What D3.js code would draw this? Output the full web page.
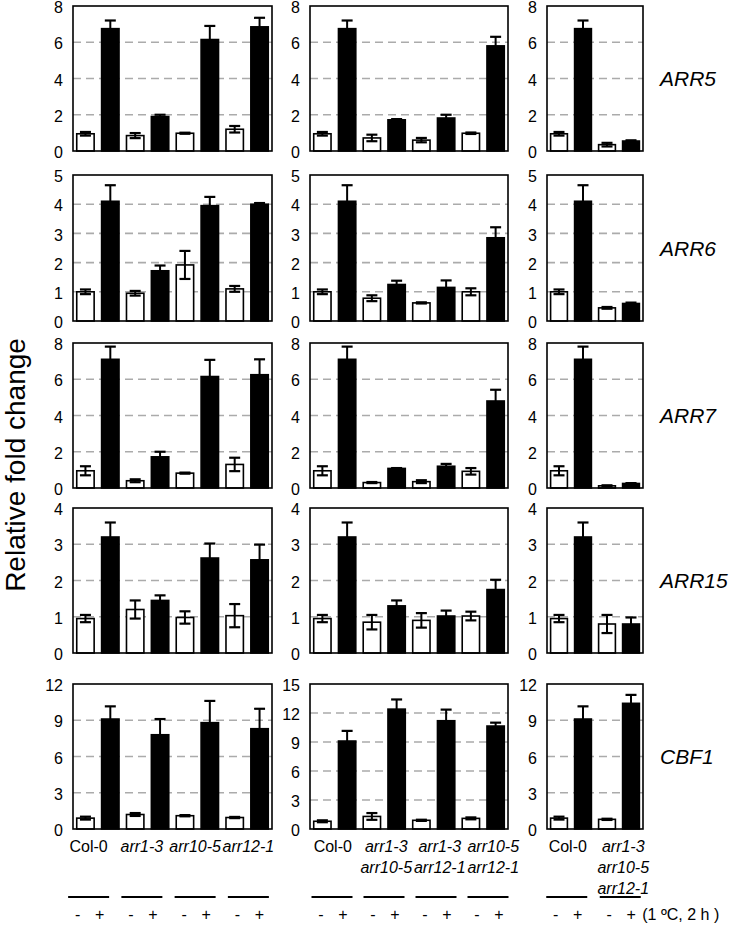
<!DOCTYPE html>
<html><head><meta charset="utf-8">
<script src="https://cdn.jsdelivr.net/npm/d3@7"></script>
<style>body{margin:0;background:#fff}svg{display:block}</style>
</head><body>
<svg id="c" width="740" height="925"></svg>
<script>
// ---------- data ----------
const genes = ["ARR5", "ARR6", "ARR7", "ARR15", "CBF1"];
const yMaxSingle = [8, 5, 8, 4, 12];
const yMaxDouble = [8, 5, 8, 4, 15];
const yMaxTriple = [8, 5, 8, 4, 12];
const yStep = [2, 1, 2, 1, 3];
const treatments = ["-", "+"];
const singleLabels = [["Col-0"], ["arr1-3"], ["arr10-5"], ["arr12-1"]];
const doubleLabels = [["Col-0"], ["arr1-3", "arr10-5"], ["arr1-3", "arr12-1"], ["arr10-5", "arr12-1"]];
const tripleLabels = [["Col-0"], ["arr1-3", "arr10-5", "arr12-1"]];
const conditionNote = "(1 ºC, 2 h )";

const ARR5_single = [0.95, 6.75, 0.85, 1.9, 0.98, 6.15, 1.2, 6.85];
const ARR5_single_err = [0.1, 0.45, 0.14, 0.1, 0.03, 0.75, 0.18, 0.5];
const ARR5_double = [0.95, 6.75, 0.72, 1.72, 0.6, 1.82, 0.98, 5.8];
const ARR5_double_err = [0.1, 0.45, 0.18, 0.04, 0.12, 0.18, 0.04, 0.5];
const ARR5_triple = [0.95, 6.75, 0.35, 0.55];
const ARR5_triple_err = [0.1, 0.45, 0.1, 0.04];

const ARR6_single = [1.0, 4.1, 0.95, 1.72, 1.92, 3.95, 1.1, 4.0];
const ARR6_single_err = [0.08, 0.55, 0.08, 0.18, 0.48, 0.3, 0.1, 0.04];
const ARR6_double = [1.0, 4.1, 0.78, 1.25, 0.62, 1.15, 1.0, 2.85];
const ARR6_double_err = [0.08, 0.55, 0.1, 0.13, 0.02, 0.24, 0.12, 0.36];
const ARR6_triple = [1.0, 4.1, 0.45, 0.6];
const ARR6_triple_err = [0.08, 0.55, 0.03, 0.03];

const ARR7_single = [0.95, 7.1, 0.4, 1.72, 0.82, 6.15, 1.3, 6.25];
const ARR7_single_err = [0.25, 0.7, 0.08, 0.28, 0.03, 0.92, 0.37, 0.85];
const ARR7_double = [0.95, 7.1, 0.3, 1.08, 0.35, 1.2, 0.92, 4.8];
const ARR7_double_err = [0.25, 0.7, 0.03, 0.02, 0.08, 0.13, 0.18, 0.62];
const ARR7_triple = [0.95, 7.1, 0.12, 0.25];
const ARR7_triple_err = [0.25, 0.7, 0.03, 0.02];

const ARR15_single = [0.95, 3.2, 1.2, 1.45, 0.98, 2.62, 1.03, 2.57];
const ARR15_single_err = [0.1, 0.4, 0.25, 0.14, 0.17, 0.4, 0.32, 0.42];
const ARR15_double = [0.95, 3.2, 0.85, 1.3, 0.9, 1.02, 1.02, 1.75];
const ARR15_double_err = [0.1, 0.4, 0.2, 0.15, 0.2, 0.15, 0.12, 0.27];
const ARR15_triple = [0.95, 3.2, 0.8, 0.8];
const ARR15_triple_err = [0.1, 0.4, 0.25, 0.18];

const CBF1_single = [0.9, 9.1, 1.2, 7.8, 1.1, 8.8, 0.95, 8.3];
const CBF1_single_err = [0.12, 1.05, 0.12, 1.3, 0.05, 1.8, 0.05, 1.65];
const CBF1_double = [0.8, 9.1, 1.3, 12.4, 0.9, 11.2, 1.1, 10.65];
const CBF1_double_err = [0.1, 1.05, 0.35, 1.0, 0.06, 1.15, 0.1, 0.35];
const CBF1_triple = [0.9, 9.1, 0.8, 10.4];
const CBF1_triple_err = [0.12, 1.05, 0.05, 0.7];

// ---------- layout ----------
const FONT = "'Liberation Sans', Arial, sans-serif";
const svg = d3.select("#c");
const colX = [[73, 272], [310, 508], [547, 643]];
const annX = [[62, 275], [306, 514], [540, 647]];
const labX = [[62, 275], [306, 520], [540, 651]];
const rowY = [[6, 151], [175, 321], [343, 488], [508, 653], [684, 829]];

const columns = [
  { labels: singleLabels, yMax: yMaxSingle,
    vals: [ARR5_single, ARR6_single, ARR7_single, ARR15_single, CBF1_single],
    errs: [ARR5_single_err, ARR6_single_err, ARR7_single_err, ARR15_single_err, CBF1_single_err] },
  { labels: doubleLabels, yMax: yMaxDouble,
    vals: [ARR5_double, ARR6_double, ARR7_double, ARR15_double, CBF1_double],
    errs: [ARR5_double_err, ARR6_double_err, ARR7_double_err, ARR15_double_err, CBF1_double_err] },
  { labels: tripleLabels, yMax: yMaxTriple,
    vals: [ARR5_triple, ARR6_triple, ARR7_triple, ARR15_triple, CBF1_triple],
    errs: [ARR5_triple_err, ARR6_triple_err, ARR7_triple_err, ARR15_triple_err, CBF1_triple_err] }
];

columns.forEach((col, ci) => {
  const nb = col.vals[0].length;
  const x = d3.scaleBand().domain(d3.range(nb)).range(colX[ci]).paddingInner(0.3).paddingOuter(0.15);
  genes.forEach((g, ri) => {
    const yMax = col.yMax[ri], step = yStep[ri];
    const y = d3.scaleLinear().domain([0, yMax]).range([rowY[ri][1], rowY[ri][0]]);
    const gp = svg.append("g");
    const ticks = d3.range(0, yMax + step / 2, step);
    // grid
    gp.selectAll("line.grid").data(ticks.filter(t => t > 0 && t < yMax)).join("line")
      .attr("x1", colX[ci][0]).attr("x2", colX[ci][1])
      .attr("y1", d => y(d)).attr("y2", d => y(d))
      .attr("stroke", "#ababab").attr("stroke-width", 1.6).attr("stroke-dasharray", "8,5");
    // axis labels
    const ax = d3.axisLeft(y).tickValues(ticks).tickFormat(d3.format("d")).tickSize(0).tickPadding(10);
    const axg = gp.append("g").attr("transform", `translate(${colX[ci][0]},0)`).call(ax);
    axg.select(".domain").remove();
    axg.selectAll("text").attr("font-family", FONT).attr("font-size", 16).attr("fill", "#000").attr("dy", "0.42em");
    // bars
    const data = col.vals[ri].map((v, i) => ({ v, e: col.errs[ri][i], i }));
    gp.selectAll("rect.bar").data(data).join("rect")
      .attr("x", d => x(d.i)).attr("width", x.bandwidth())
      .attr("y", d => y(d.v)).attr("height", d => y(0) - y(d.v))
      .attr("fill", d => d.i % 2 ? "#000" : "#fff")
      .attr("stroke", "#000").attr("stroke-width", 1.6);
    // error bars
    const eb = gp.selectAll("g.eb").data(data).join("g");
    eb.append("line")
      .attr("x1", d => x(d.i) + x.bandwidth() / 2).attr("x2", d => x(d.i) + x.bandwidth() / 2)
      .attr("y1", d => y(Math.max(0, d.v - d.e))).attr("y2", d => y(d.v + d.e))
      .attr("stroke", "#000").attr("stroke-width", 2);
    [1, -1].forEach(s => {
      eb.append("line")
        .attr("x1", d => x(d.i) + x.bandwidth() / 2 - 5.5).attr("x2", d => x(d.i) + x.bandwidth() / 2 + 5.5)
        .attr("y1", d => y(Math.max(0, d.v + s * d.e))).attr("y2", d => y(Math.max(0, d.v + s * d.e)))
        .attr("stroke", "#000").attr("stroke-width", 2.2);
    });
    // frame
    gp.append("rect").attr("x", colX[ci][0]).attr("y", rowY[ri][0])
      .attr("width", colX[ci][1] - colX[ci][0]).attr("height", rowY[ri][1] - rowY[ri][0])
      .attr("fill", "none").attr("stroke", "#000").attr("stroke-width", 1.6);
  });

  // genotype labels under last row
  const pairs = col.labels.length;
  const px = d3.scaleBand().domain(d3.range(pairs)).range(labX[ci]);
  col.labels.forEach((lines, pi) => {
    const t = svg.append("text").attr("font-family", FONT).attr("font-size", 16)
      .attr("text-anchor", "middle").attr("font-style", lines[0] === "Col-0" ? "normal" : "italic");
    lines.forEach((ln, li) => {
      t.append("tspan").attr("x", px(pi) + px.bandwidth() / 2).attr("y", 852 + li * 21).text(ln);
    });
  });

  // treatment annotation
  const an = d3.scaleBand().domain(d3.range(pairs)).range(annX[ci]);
  d3.range(pairs).forEach(pi => {
    const c = an(pi) + an.bandwidth() / 2;
    svg.append("line").attr("x1", c - 20.5).attr("x2", c + 20.5).attr("y1", 897).attr("y2", 897)
      .attr("stroke", "#000").attr("stroke-width", 2);
    treatments.forEach((tr, ti) => {
      svg.append("text").attr("x", c + (ti ? 11 : -11)).attr("y", 920)
        .attr("font-family", FONT).attr("font-size", 16).attr("text-anchor", "middle").text(tr);
    });
    if (ci === 2 && pi === pairs - 1) {
      svg.append("text").attr("x", c + 22).attr("y", 920)
        .attr("font-family", FONT).attr("font-size", 16).text(conditionNote);
    }
  });
});

// gene labels
genes.forEach((g, ri) => {
  svg.append("text").attr("x", 660).attr("y", (rowY[ri][0] + rowY[ri][1]) / 2 + 7.5)
    .attr("font-family", FONT).attr("font-size", 21).attr("font-style", "italic").text(g);
});

// y title
svg.append("text").attr("transform", "translate(25,465) rotate(-90)")
  .attr("text-anchor", "middle").attr("font-family", FONT).attr("font-size", 28)
  .text("Relative fold change");
</script>
</body></html>
